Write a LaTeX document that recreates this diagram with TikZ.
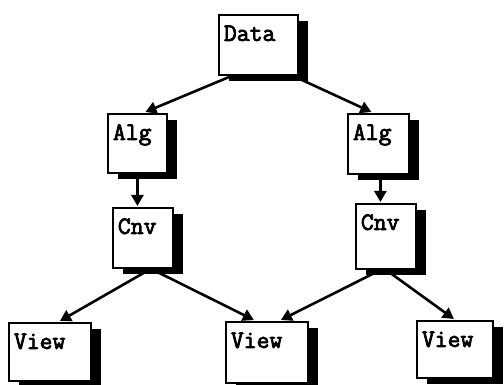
\documentclass[tikz,border=0pt]{standalone}
\usepackage{fontspec}
\newfontfamily\courfont{Latin Modern Mono}[FakeBold=3]
\usetikzlibrary{calc,arrows.meta,shadows,backgrounds}
\tikzset{
  bx/.style={draw, line width=1.8pt, fill=white, anchor=north west,
    font=\courfont\fontsize{25}{26}\selectfont,
    inner xsep=5pt, inner ysep=0pt, text height=26pt, align=left,
    drop shadow={shadow xshift=10pt, shadow yshift=-6pt, opacity=1, fill=black}},
  link/.style={line width=2.6pt, -{Triangle[length=11pt,width=12pt]}}
}
\begin{document}
\begin{tikzpicture}[x=1pt,y=-1pt]
\useasboundingbox (0,0) rectangle (504,385);
\node[bx, text width=69pt, text depth=34pt] (data) at (218,14) {Data};
\node[bx, text width=49pt, text depth=33pt] (algL) at (107,113) {Alg};
\node[bx, text width=51pt, text depth=34pt] (algR) at (347,113) {Alg};
\node[bx, text width=50pt, text depth=34pt] (cnvL) at (112,207) {Cnv};
\node[bx, text width=50pt, text depth=39pt] (cnvR) at (355,203) {Cnv};
\node[bx, text width=72pt, text depth=32pt] (viewL) at (8,322) {View};
\node[bx, text width=72pt, text depth=35pt] (viewM) at (225,321) {View};
\node[bx, text width=66pt, text depth=31pt] (viewR) at (416,320) {View};

\begin{scope}[on background layer]
\draw[link] ($(data.south west)+(14,0)$) -- ($(algL.north)+(8,-1)$);
\draw[link] ($(data.south east)+(-6,0)$) -- ($(algR.north)+(-7,-1)$);
\draw[link] (algL.south) -- ($(algL.south |- cnvL.north)+(0,-1)$);
\draw[link] ($(algR.south)+(2,0)$) -- ($(algR.south |- cnvR.north)+(2,-1)$);
\draw[link] ($(cnvL.south)+(8,0)$) -- ($(viewL.north)+(10,-1)$);
\draw[link] ($(cnvL.south)+(8,0)$) -- ($(viewM.north)+(-13,-1)$);
\draw[link] ($(cnvR.south)+(-5,0)$) -- ($(viewM.north)+(14,-1)$);
\draw[link] (cnvR.south) -- ($(viewR.north)+(-1,-1)$);
\end{scope}
\end{tikzpicture}
\end{document}
